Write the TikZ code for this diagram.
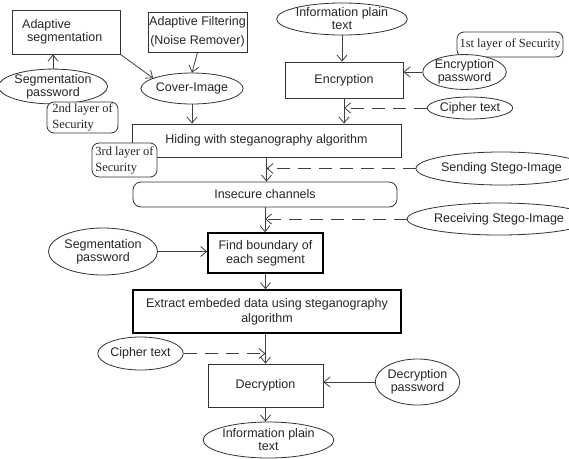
\documentclass[tikz,border=0pt]{standalone}
\usepackage{fontspec}
\setmainfont{Liberation Sans}
\newfontfamily\secfont{Liberation Serif}
\usetikzlibrary{shapes.geometric,arrows.meta}
\begin{document}
\begin{tikzpicture}[x=1pt,y=-1pt,
  every node/.style={font=\fontsize{12.5}{14}\selectfont, text=black!85, inner sep=0pt, align=center},
  box/.style={draw=black!80, line width=0.8pt, rectangle},
  thickbox/.style={draw=black, line width=1.6pt, rectangle},
  oval/.style={draw=black!80, line width=0.8pt, ellipse, fill=white},
  sec/.style={draw=black!80, line width=0.8pt, rectangle, rounded corners=7pt, fill=white,
     font=\secfont\fontsize{12.5}{16}\selectfont, align=left},
  arr/.style={draw=black!75, line width=0.8pt, -{Straight Barb[length=6pt,width=10pt]}},
  darr/.style={arr, dash pattern=on 13pt off 8pt}]
\useasboundingbox (0,0) rectangle (569,458);
% top left
\node[box, minimum width=108pt, minimum height=44pt] (seg) at (66,32) {};
\node[anchor=west, align=left, font=\fontsize{12.5}{13}\selectfont] (segtxt) at (22,32) {Adaptive\\\hspace*{5pt}segmentation};
\node[box, minimum width=99pt, minimum height=40pt, font=\fontsize{12.5}{19}\selectfont] (filt) at (197.5,32) {Adaptive Filtering\\(Noise Remover)};
\node[oval, minimum width=90pt, minimum height=33pt, font=\fontsize{12.5}{13}\selectfont] (segpw) at (53,86.5) {Segmentation\\password};
\node[sec, minimum width=71pt, minimum height=31pt] (layer2) at (82.5,117.5) {2nd layer of\\Security};
\node[oval, minimum width=90pt, minimum height=31pt] (cover) at (192,88.5) {Cover-Image};
% top right
\node[oval, minimum width=120pt, minimum height=32pt, font=\fontsize{12.5}{13}\selectfont] (info1) at (342,19) {Information plain\\text};
\node[box, minimum width=118pt, minimum height=36pt] (enc) at (344,80) {Encryption};
\node[sec, minimum width=106pt, minimum height=25pt] (layer1) at (510,44.5) {1st layer of Security};
\node[oval, minimum width=65pt, minimum height=34pt, font=\fontsize{12.5}{13}\selectfont] (encpw) at (464.5,72) {Encryption\\password};
\node[oval, minimum width=75pt, minimum height=22pt] (ciph1) at (470,108) {Cipher text};
% middle
\node[box, minimum width=269pt, minimum height=33pt] (hide) at (266.5,140.5) {Hiding with steganography algorithm};
\node[sec, minimum width=65pt, minimum height=34pt] (layer3) at (124.5,160) {3rd layer of\\Security};
\node[draw=black!80, line width=0.8pt, rounded corners=8pt, minimum width=264pt, minimum height=25pt] (insec) at (265,194.5) {Insecure channels};
\node[oval, minimum width=133pt, minimum height=33pt] (send) at (501.5,168.5) {Sending Stego-Image};
\node[oval, minimum width=138pt, minimum height=32pt] (recv) at (499,219) {Receiving Stego-Image};
\node[thickbox, minimum width=115pt, minimum height=40pt] (find) at (265.5,253) {Find boundary of\\each segment};
\node[oval, minimum width=90pt, minimum height=47pt, font=\fontsize{12.5}{13}\selectfont] (segpw2) at (103,251.5) {Segmentation\\password};
\node[thickbox, minimum width=268pt, minimum height=43pt, font=\fontsize{12.5}{15}\selectfont] (extr) at (267,311.5) {Extract embeded data using steganography\\algorithm};
% bottom
\node[oval, minimum width=75pt, minimum height=33pt] (ciph2) at (140.5,353.5) {Cipher text};
\node[box, minimum width=115pt, minimum height=43pt] (dec) at (265.5,385.5) {Decryption};
\node[oval, minimum width=75pt, minimum height=46pt, font=\fontsize{12.5}{13}\selectfont] (decpw) at (417.5,382) {Decryption\\password};
\node[oval, minimum width=107pt, minimum height=36pt, font=\fontsize{12.5}{13}\selectfont] (info2) at (268.5,440) {Information plain\\text};
% connectors
\draw[arr] (segpw.north) -- (segpw.north |- seg.south);
\draw[arr] (seg.south east) -- (cover.165);
\draw[arr] (filt.south) -- (cover.north);
\draw[arr] (cover.south) -- (cover.south |- hide.north);
\draw[arr] (info1.south) -- (info1.south |- enc.north);
\draw[arr] (encpw.west) -- (encpw.west -| enc.east);
\draw[arr] (enc.south) -- (enc.south |- hide.north);
\coordinate (c1) at (ciph1.west -| enc.south);
\draw[darr] (ciph1.west) -- (c1);
\draw[arr] (hide.south) -- (hide.south |- insec.north);
\coordinate (c2) at (send.west -| hide.south);
\draw[darr] (send.west) -- (c2);
\draw[arr] (insec.south) -- (insec.south |- find.north);
\coordinate (c3) at (recv.west -| insec.south);
\draw[darr] (recv.west) -- (c3);
\draw[arr] (segpw2.east) -- (segpw2.east -| find.west);
\draw[arr] (find.south) -- (find.south |- extr.north);
\draw[arr] (dec.north |- extr.south) -- (dec.north);
\coordinate (c4) at (ciph2.east -| dec.north);
\draw[darr] (ciph2.east) -- (c4);
\draw[arr] (decpw.west) -- (decpw.west -| dec.east);
\draw[arr] (dec.south) -- (dec.south |- info2.north);
\end{tikzpicture}
\end{document}
